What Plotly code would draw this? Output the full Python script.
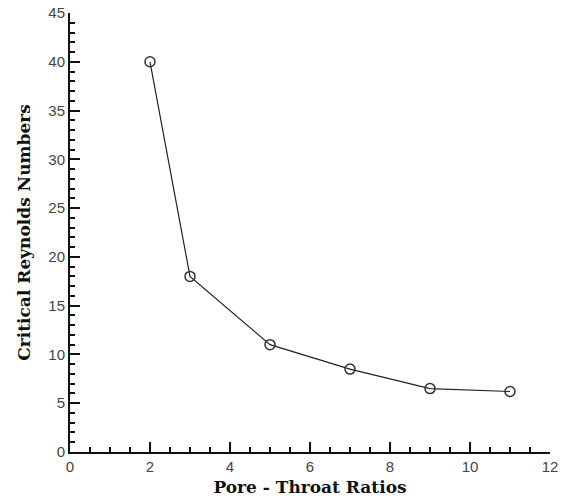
import plotly.graph_objects as go

pore_throat_ratio = [2, 3, 5, 7, 9, 11]
critical_reynolds = [40, 18, 11, 8.5, 6.5, 6.2]

x_title = "Pore - Throat Ratios"
y_title = "Critical Reynolds Numbers"

fig = go.Figure()
fig.add_trace(go.Scatter(
    x=pore_throat_ratio, y=critical_reynolds,
    mode="lines+markers",
    line=dict(color="#222222", width=1.2),
    marker=dict(symbol="circle-open", size=10, color="#333333", line=dict(width=1.5)),
    showlegend=False,
))

tickfont = dict(family="Liberation Sans, Arial, sans-serif", size=15, color="#444444")
titlefont = dict(family="DejaVu Serif, serif", size=17, color="#111111")

fig.update_xaxes(
    range=[0, 12], dtick=2, tick0=0,
    showgrid=False, zeroline=False, automargin=False,
    showline=True, linecolor="#111111", linewidth=2,
    ticks="inside", ticklen=10, tickwidth=2, tickcolor="#111111",
    minor=dict(ticks="inside", dtick=0.5, ticklen=5, tickwidth=1.5, tickcolor="#111111"),
    tickfont=tickfont, ticklabeloverflow="allow",
    title=dict(text="<b>" + x_title + "</b>", font=titlefont, standoff=7),
)
fig.update_yaxes(
    range=[0, 45], dtick=5, tick0=0,
    showgrid=False, zeroline=False, automargin=False,
    showline=True, linecolor="#111111", linewidth=2,
    ticks="inside", ticklen=10, tickwidth=2, tickcolor="#111111",
    minor=dict(ticks="inside", dtick=1, ticklen=5, tickwidth=1.5, tickcolor="#111111"),
    tickfont=tickfont, ticklabeloverflow="allow",
    title=dict(text="<b>" + y_title + "</b>", font=titlefont, standoff=13),
)

fig.update_layout(
    width=571, height=499,
    margin=dict(l=70, r=21, t=13, b=47),
    plot_bgcolor="white", paper_bgcolor="white",
)

# remove the default page margin so the figure fills the window exactly
fig.write_html(
    "out.html",
    config={"displayModeBar": False},
    post_script="document.body.style.margin='0';",
)
